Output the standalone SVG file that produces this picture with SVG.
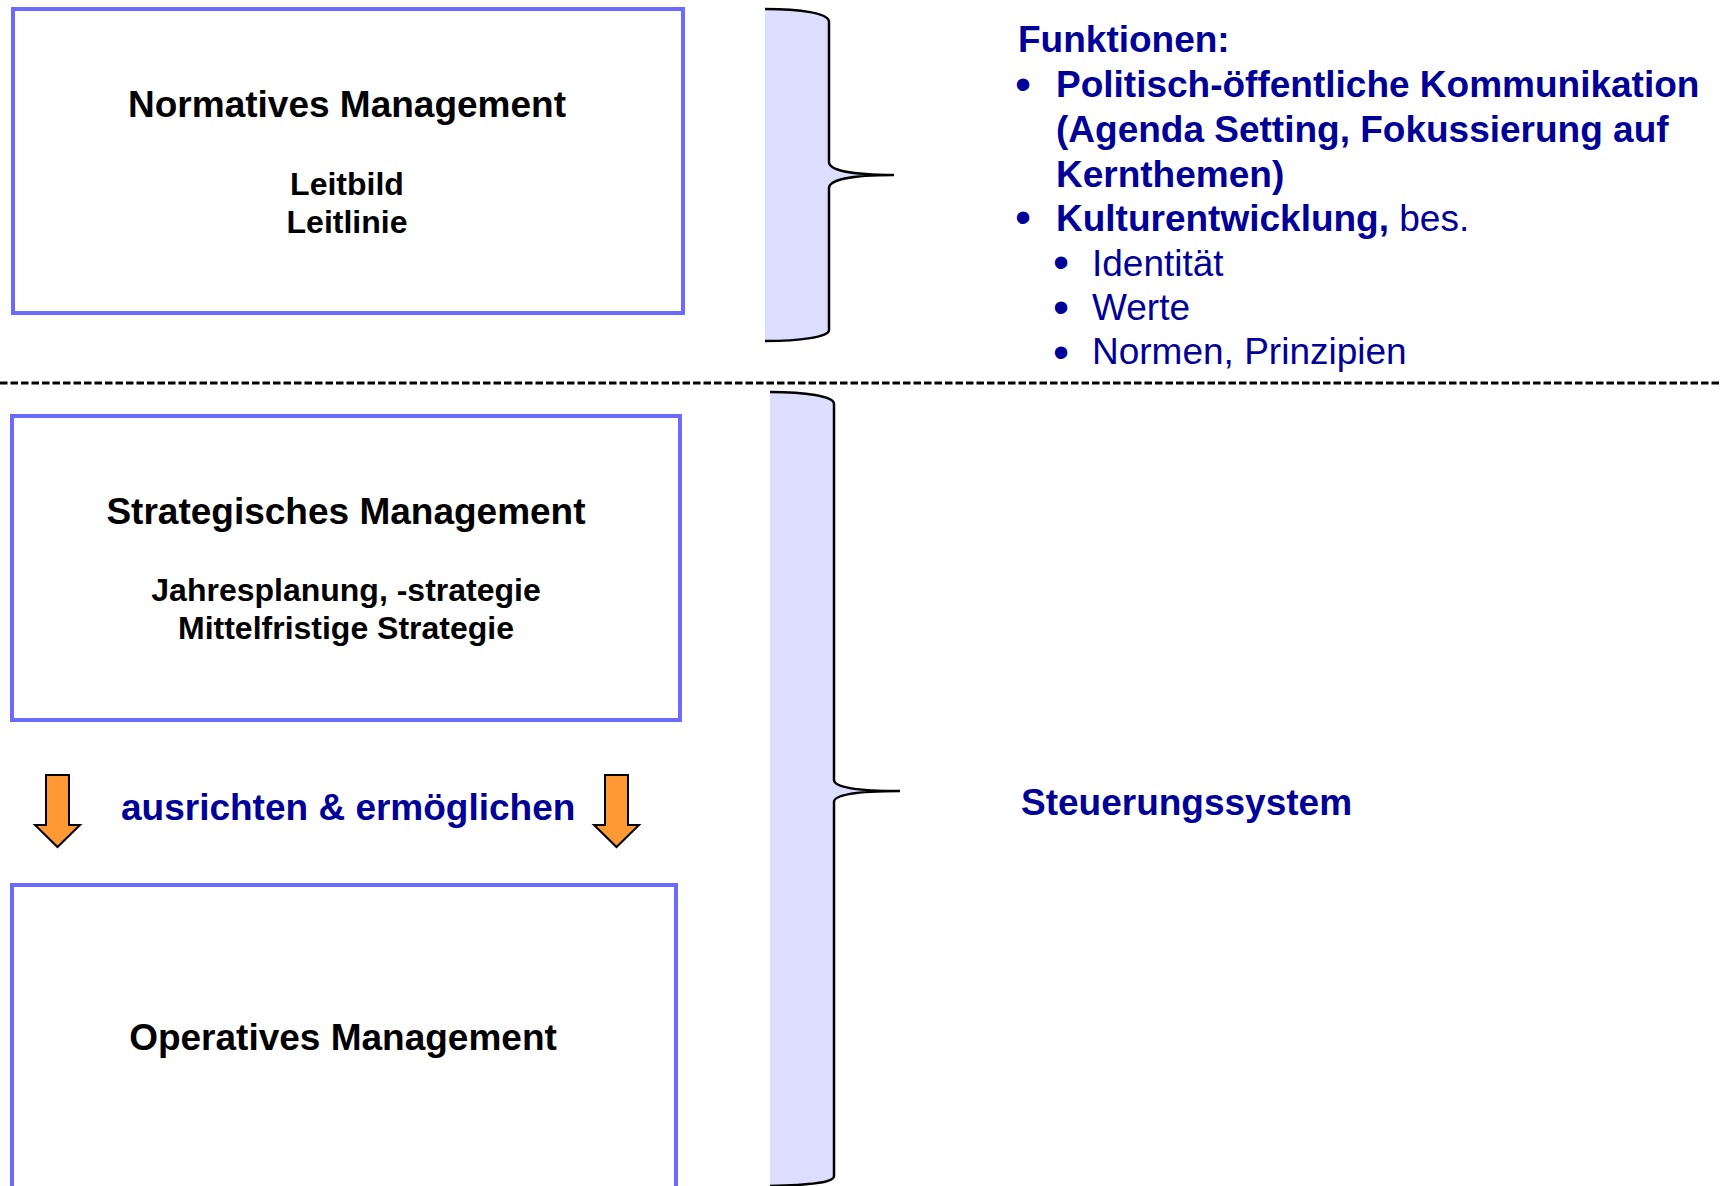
<svg xmlns="http://www.w3.org/2000/svg" width="1721" height="1186" viewBox="0 0 1721 1186">
<style>
.box{fill:#FFFFFF;stroke:#6B6BFF;stroke-width:4}
.t{font-family:"Liberation Sans",Arial,sans-serif;font-weight:bold;fill:#000000}
.big{font-size:37px}
.sm{font-size:32px}
.blue{font-family:"Liberation Sans",Arial,sans-serif;fill:#000099;font-size:37px}
.b{font-weight:bold}
.bul{font-family:"Liberation Sans",Arial,sans-serif;fill:#000099;font-size:46px}
.bfill{fill:#DDDDFF;stroke:none}
.bline{fill:none;stroke:#000000;stroke-width:2.5}
.arrow{fill:#FF9933;stroke:#000000;stroke-width:2;stroke-linejoin:miter}
</style>
<rect width="1721" height="1186" fill="#FFFFFF"/>

<g id="divider">
<line x1="0" y1="383" x2="1721" y2="383" stroke="#000000" stroke-width="2.8" stroke-dasharray="7.5,3"/>
</g>

<g id="normatives">
<rect class="box" x="13" y="9" width="670" height="304"/>
<text class="t big" x="347" y="117" text-anchor="middle">Normatives Management</text>
<text class="t sm" x="347" y="195" text-anchor="middle">Leitbild</text>
<text class="t sm" x="347" y="233" text-anchor="middle">Leitlinie</text>
</g>

<g id="strategisches">
<rect class="box" x="12" y="416" width="668" height="304"/>
<text class="t big" x="346" y="524" text-anchor="middle">Strategisches Management</text>
<text class="t sm" x="346" y="601" text-anchor="middle">Jahresplanung, -strategie</text>
<text class="t sm" x="346" y="639" text-anchor="middle">Mittelfristige Strategie</text>
</g>

<g id="operatives">
<rect class="box" x="12" y="885" width="664" height="320"/>
<text class="t big" x="343" y="1050" text-anchor="middle">Operatives Management</text>
</g>

<g id="brace-top">
<path class="bfill" d="M765,9 C800,9 829,13 829,22 L829,162 C829,170 850,175 894,175 C850,175 829,180 829,188 L829,330 C829,337 800,341 765,341 Z"/>
<path class="bline" d="M765,9 C800,9 829,13 829,22 L829,162 C829,170 850,175 894,175 C850,175 829,180 829,188 L829,330 C829,337 800,341 765,341"/>
</g>

<g id="brace-bottom">
<path class="bfill" d="M770,392 C805,392 834,396 834,404 L834,780 C834,787 855,791 900,791 C855,791 834,795 834,802 L834,1176 C834,1182 815,1185 770,1186 L770,1190 Z"/>
<path class="bline" d="M770,392 C805,392 834,396 834,404 L834,780 C834,787 855,791 900,791 C855,791 834,795 834,802 L834,1176 C834,1182 815,1185 770,1186"/>
</g>

<g id="funktionen">
<text class="blue b" x="1018" y="52">Funktionen:</text>
<text class="bul" x="1015" y="100">•</text>
<text class="blue b" x="1056" y="97">Politisch-öffentliche Kommunikation</text>
<text class="blue b" x="1056" y="142">(Agenda Setting, Fokussierung auf</text>
<text class="blue b" x="1056" y="187">Kernthemen)</text>
<text class="bul" x="1015" y="233">•</text>
<text class="blue" x="1056" y="231"><tspan class="b">Kulturentwicklung,</tspan> bes.</text>
<text class="bul" x="1053" y="278">•</text>
<text class="blue" x="1092" y="276">Identität</text>
<text class="bul" x="1053" y="323">•</text>
<text class="blue" x="1092" y="320">Werte</text>
<text class="bul" x="1053" y="368">•</text>
<text class="blue" x="1092" y="364">Normen, Prinzipien</text>
</g>

<g id="steuerungssystem">
<text class="blue b" x="1021" y="815">Steuerungssystem</text>
</g>

<g id="connectors">
<path class="arrow" d="M46,775 L69,775 L69,825 L80,825 L57.5,847 L35,825 L46,825 Z"/>
<path class="arrow" d="M605,775 L628,775 L628,825 L639,825 L616.5,847 L594,825 L605,825 Z"/>
<text class="blue b" x="121" y="820">ausrichten &amp; ermöglichen</text>
</g>
</svg>
